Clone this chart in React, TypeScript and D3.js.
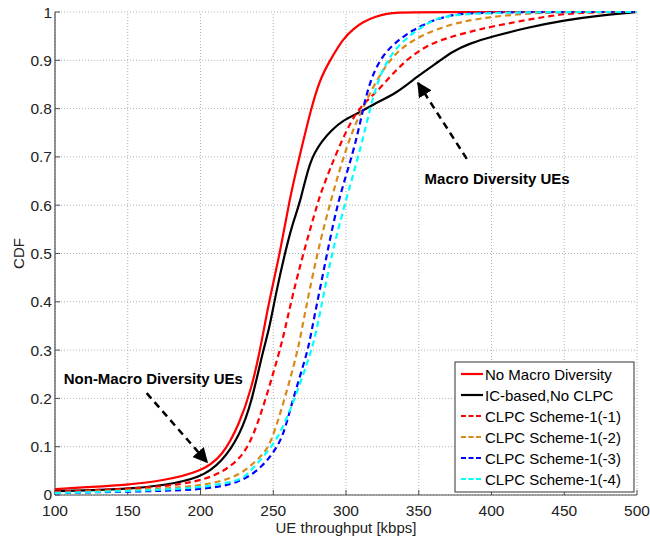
import React from "react";
import * as d3 from "d3";

const xTicks = [100, 150, 200, 250, 300, 350, 400, 450, 500];
const yTicks = [0, 0.1, 0.2, 0.3, 0.4, 0.5, 0.6, 0.7, 0.8, 0.9, 1];

const seriesNames = [
  "No Macro Diversity",
  "IC-based,No CLPC",
  "CLPC Scheme-1(-1)",
  "CLPC Scheme-1(-2)",
  "CLPC Scheme-1(-3)",
  "CLPC Scheme-1(-4)",
];

const noMacroX = [100, 120, 150, 175, 200, 215, 227, 235, 241, 247, 254.6, 261, 268, 276, 282, 289, 298, 305, 312, 320, 328, 337, 346, 500];
const noMacroY = [0.012, 0.016, 0.021, 0.03, 0.048, 0.079, 0.149, 0.22, 0.3, 0.4, 0.5, 0.61, 0.7, 0.8, 0.86, 0.9, 0.945, 0.965, 0.98, 0.99, 0.997, 0.999, 1, 1];

const icBasedX = [100, 150, 175, 200, 215, 227, 235, 243, 247, 252, 258, 263, 269, 275, 284, 290, 298, 309, 318, 335, 349, 365, 373, 385, 400, 425, 450, 475, 500];
const icBasedY = [0.008, 0.012, 0.02, 0.035, 0.069, 0.124, 0.19, 0.3, 0.34, 0.42, 0.5, 0.56, 0.61, 0.694, 0.735, 0.755, 0.776, 0.791, 0.808, 0.832, 0.867, 0.9, 0.918, 0.935, 0.949, 0.968, 0.983, 0.993, 1];

const clpc1X = [100, 150, 200, 222, 234, 245, 254.6, 258, 263, 270.6, 281, 284, 294, 307, 318, 330, 341, 355, 369, 385, 400, 425, 450, 475, 500];
const clpc1Y = [0.007, 0.012, 0.024, 0.059, 0.1, 0.2, 0.3, 0.342, 0.41, 0.5, 0.61, 0.636, 0.714, 0.797, 0.825, 0.865, 0.9, 0.93, 0.946, 0.959, 0.97, 0.984, 0.997, 1, 1];

const clpc2X = [100, 150, 200, 227, 241, 247.8, 258, 267, 269.5, 280, 290, 301, 311, 328, 346, 372, 392, 400, 425, 447, 500];
const clpc2Y = [0.005, 0.009, 0.017, 0.038, 0.079, 0.1, 0.2, 0.3, 0.342, 0.5, 0.615, 0.729, 0.8, 0.9, 0.945, 0.976, 0.986, 0.99, 0.997, 1, 1];

const clpc3X = [100, 150, 200, 227, 243, 253, 258, 263.6, 274, 276.4, 287, 294.5, 305, 311.7, 314, 323, 346, 369, 392, 500];
const clpc3Y = [0.004, 0.007, 0.01, 0.024, 0.059, 0.1, 0.134, 0.2, 0.3, 0.342, 0.5, 0.61, 0.708, 0.797, 0.83, 0.912, 0.966, 0.994, 1, 1];

const clpc4X = [100, 150, 200, 227, 232, 241, 249, 255.8, 265, 276.4, 280, 290, 300, 311, 316.5, 323, 334.5, 357, 372, 500];
const clpc4Y = [0.004, 0.008, 0.014, 0.03, 0.042, 0.072, 0.1, 0.134, 0.2, 0.3, 0.342, 0.5, 0.61, 0.729, 0.8, 0.87, 0.932, 0.98, 1, 1];

const annotTexts = ["Macro Diversity UEs", "Non-Macro Diversity UEs"];
const annotTextX = [354, 106];
const annotTextY = [0.644, 0.23];
const arrowFromX = [383, 163];
const arrowFromY = [0.696, 0.211];
const arrowToX = [349.5, 204.5];
const arrowToY = [0.853, 0.068];

const colors = ["#ff0000", "#000000", "#ff0000", "#d98a1c", "#0000ff", "#00ffff"];
const dashed = [false, false, true, true, true, true];

const W = 650;
const H = 541;
const M = { left: 55, right: 13, top: 12, bottom: 46 };
const FONT = "'Liberation Sans', Arial, sans-serif";

export default function App() {
  const x = d3.scaleLinear().domain([100, 500]).range([M.left, W - M.right]);
  const y = d3.scaleLinear().domain([0, 1]).range([H - M.bottom, M.top]);
  const xs = [noMacroX, icBasedX, clpc1X, clpc2X, clpc3X, clpc4X];
  const ys = [noMacroY, icBasedY, clpc1Y, clpc2Y, clpc3Y, clpc4Y];
  const line = d3
    .line<[number, number]>()
    .x((d) => x(d[0]))
    .y((d) => y(d[1]))
    .curve(d3.curveBasis);

  const x0 = x(100), x1 = x(500), y0 = y(0), y1 = y(1);
  const legX = 455, legY = 362, legW = 179, legH = 130, legRow = 21;

  return (
    <svg width={W} height={H} style={{ position: "absolute", left: 0, top: 0, background: "#fff" }} fontFamily={FONT}>
      <defs>
        <clipPath id="plotclip">
          <rect x={x0} y={y1 - 3} width={x1 - x0 + 3} height={y0 - y1 + 6} />
        </clipPath>
        <marker id="arrowhead" viewBox="0 0 10 10" refX="9" refY="5" markerWidth="6" markerHeight="6" orient="auto" markerUnits="strokeWidth">
          <path d="M0,0 L10,5 L0,10 z" fill="#000" />
        </marker>
      </defs>
      {/* grid */}
      {xTicks.map((t) => (
        <line key={"gx" + t} x1={x(t)} x2={x(t)} y1={y0} y2={y1} stroke="#b0b0b0" strokeWidth={1} strokeDasharray="1,2" />
      ))}
      {yTicks.map((t) => (
        <line key={"gy" + t} x1={x0} x2={x1} y1={y(t)} y2={y(t)} stroke="#b0b0b0" strokeWidth={1} strokeDasharray="1,2" />
      ))}
      {/* axes */}
      <line x1={x0} x2={x0} y1={y0} y2={y1} stroke="#4d4d4d" strokeWidth={1.2} />
      <line x1={x0} x2={x1} y1={y0} y2={y0} stroke="#4d4d4d" strokeWidth={1.2} />
      {xTicks.map((t) => (
        <g key={"tx" + t}>
          <line x1={x(t)} x2={x(t)} y1={y0} y2={y0 - 5} stroke="#4d4d4d" />
          <text x={x(t)} y={y0 + 21} textAnchor="middle" fontSize={15.5} fill="#222">{t}</text>
        </g>
      ))}
      {yTicks.map((t) => (
        <g key={"ty" + t}>
          <line x1={x0} x2={x0 + 5} y1={y(t)} y2={y(t)} stroke="#4d4d4d" />
          <text x={x0 - 3} y={y(t) + (t === 0 ? 4.5 : 5.5)} textAnchor="end" fontSize={15.5} fill="#222">{t}</text>
        </g>
      ))}
      <text x={(x0 + x1) / 2} y={533} textAnchor="middle" fontSize={15} fill="#222">UE throughput [kbps]</text>
      <text transform={`translate(24,${(y0 + y1) / 2}) rotate(-90)`} textAnchor="middle" fontSize={15} fill="#222">CDF</text>
      {/* series */}
      <g clipPath="url(#plotclip)">
        {xs.map((xa, i) => {
          const pts = xa.map((v, j) => [v, ys[i][j]] as [number, number]);
          return (
            <path key={"s" + i} d={line(pts) || ""} fill="none" stroke={colors[i]} strokeWidth={2.2} strokeDasharray={dashed[i] ? "6,4" : undefined} />
          );
        })}
      </g>
      {/* annotations */}
      {annotTexts.map((t, i) => (
        <g key={"a" + i}>
          <line x1={x(arrowFromX[i])} y1={y(arrowFromY[i])} x2={x(arrowToX[i])} y2={y(arrowToY[i])} stroke="#000" strokeWidth={2.5} strokeDasharray="7,5" markerEnd="url(#arrowhead)" />
          <text x={x(annotTextX[i])} y={y(annotTextY[i])} fontSize={15} fontWeight="bold" fill="#000">{t}</text>
        </g>
      ))}
      {/* legend */}
      <rect x={legX} y={legY} width={legW} height={legH} fill="#fff" stroke="#333" strokeWidth={1} />
      {seriesNames.map((n, i) => (
        <g key={"l" + i}>
          <line x1={legX + 6} x2={legX + 28} y1={legY + 12 + i * legRow} y2={legY + 12 + i * legRow} stroke={colors[i]} strokeWidth={2.2} strokeDasharray={dashed[i] ? "5,2.5" : undefined} />
          <text x={legX + 30} y={legY + 17.5 + i * legRow} fontSize={15} fill="#000">{n}</text>
        </g>
      ))}
    </svg>
  );
}
